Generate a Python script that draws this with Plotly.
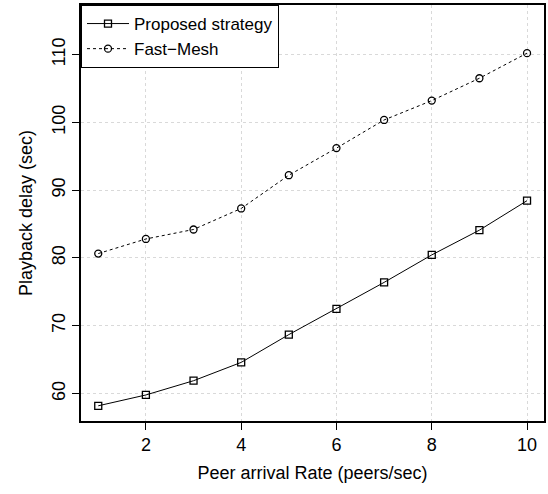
import plotly.graph_objects as go

rate = [1, 2, 3, 4, 5, 6, 7, 8, 9, 10]
proposed = [58.2, 59.8, 61.9, 64.6, 68.7, 72.5, 76.4, 80.45, 84.1, 88.45]
fast_mesh = [80.65, 82.8, 84.2, 87.3, 92.2, 96.2, 100.35, 103.2, 106.5, 110.2]
x_ticks = [2, 4, 6, 8, 10]
y_ticks = [60, 70, 80, 90, 100, 110]

FONT = "Liberation Sans, Arial, Helvetica, sans-serif"

fig = go.Figure()
fig.add_trace(go.Scatter(
    x=rate, y=proposed, mode="lines+markers", name="Proposed strategy",
    line=dict(color="black", width=1),
    marker=dict(symbol="square-open", size=7, color="black", line=dict(width=1.3)),
))
fig.add_trace(go.Scatter(
    x=rate, y=fast_mesh, mode="lines+markers", name="Fast\u2212Mesh",
    line=dict(color="black", width=1, dash="3px,3px"),
    marker=dict(symbol="circle-open", size=7, color="black", line=dict(width=1.3)),
))

axis_common = dict(
    showline=True, linecolor="black", linewidth=1.5, mirror=True,
    ticks="outside", ticklen=7, tickcolor="black", tickwidth=1,
    showgrid=True, gridcolor="#d9d9d9", griddash="dot", gridwidth=1,
    zeroline=False,
    tickfont=dict(family=FONT, size=18, color="black"),
)

fig.update_xaxes(
    range=[0.638, 10.356], tickvals=x_ticks,
    title=dict(text="Peer arrival Rate (peers/sec)", font=dict(family=FONT, size=18, color="black"), standoff=12),
    **axis_common,
)
fig.update_yaxes(
    range=[55.96, 117.3], tickvals=y_ticks, tickangle=-90,
    title=dict(text="Playback delay (sec)", font=dict(family=FONT, size=18, color="black"), standoff=12),
    **axis_common,
)

fig.update_layout(
    width=548, height=494,
    margin=dict(l=81, r=2, t=5, b=73),
    paper_bgcolor="white", plot_bgcolor="white",
    showlegend=True,
    legend=dict(
        x=0, y=1, xanchor="left", yanchor="top",
        bordercolor="black", borderwidth=1, bgcolor="white",
        font=dict(family=FONT, size=17, color="black"),
        tracegroupgap=0, itemwidth=42,
    ),
    font=dict(family=FONT, color="black"),
)

fig.write_html("out.html", config={"displayModeBar": False},
               post_script="document.body.style.margin='0';")
